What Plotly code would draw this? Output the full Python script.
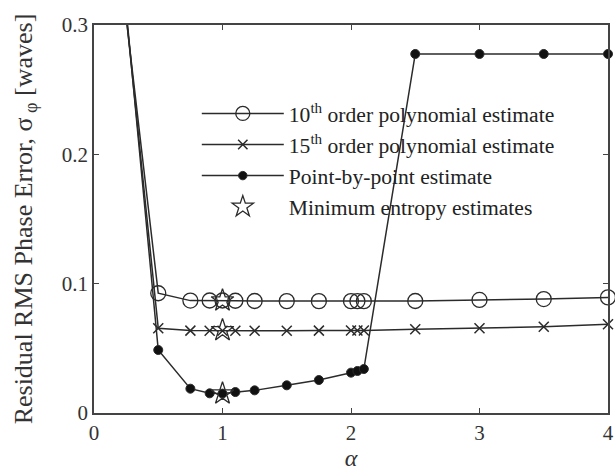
import plotly.graph_objects as go

alpha = [0.25, 0.5, 0.75, 0.9, 1.0, 1.1, 1.25, 1.5, 1.75, 2.0, 2.05, 2.1, 2.5, 3.0, 3.5, 4.0]
poly10 = [0.306, 0.0926, 0.0869, 0.0870, 0.0870, 0.0868, 0.0866, 0.0865, 0.0865, 0.0865, 0.0865, 0.0865, 0.0866, 0.0874, 0.0881, 0.0894]
poly15 = [0.308, 0.0655, 0.0637, 0.0636, 0.0636, 0.0636, 0.0636, 0.0636, 0.0637, 0.0638, 0.0638, 0.0638, 0.0647, 0.0655, 0.0667, 0.0686]
pbp = [0.312, 0.0487, 0.0188, 0.0152, 0.0150, 0.0162, 0.0175, 0.0214, 0.0255, 0.0312, 0.0325, 0.0340, 0.2776, 0.2776, 0.2776, 0.2776]
minent_alpha = [1.0, 1.0, 1.0]
minent_val = [0.0870, 0.0640, 0.0150]

FONT = "Liberation Serif"
INK = "#2b2b2b"


def sizes(n, s):
    return [0] + [s] * (n - 1)


fig = go.Figure()
fig.add_trace(go.Scatter(
    x=alpha, y=poly10, mode="lines+markers", cliponaxis=False,
    name="10<sup>th</sup> order polynomial estimate",
    line=dict(color=INK, width=1.5),
    marker=dict(symbol="circle-open", size=sizes(len(alpha), 15), color=INK, opacity=1,
                line=dict(width=1.3, color=INK)),
))
fig.add_trace(go.Scatter(
    x=alpha, y=poly15, mode="lines+markers", cliponaxis=False,
    name="15<sup>th</sup> order polynomial estimate",
    line=dict(color=INK, width=1.5),
    marker=dict(symbol="x-thin-open", size=sizes(len(alpha), 10), color=INK, opacity=1,
                line=dict(width=1.5, color=INK)),
))
fig.add_trace(go.Scatter(
    x=alpha, y=pbp, mode="lines+markers", cliponaxis=False,
    name="Point-by-point estimate",
    line=dict(color=INK, width=1.5),
    marker=dict(symbol="circle", size=sizes(len(alpha), 9), color="#111111", opacity=1),
))
fig.add_trace(go.Scatter(
    x=minent_alpha, y=minent_val, mode="markers", cliponaxis=False,
    name="Minimum entropy estimates",
    marker=dict(symbol="star-open", size=17, color=INK, opacity=1, line=dict(width=1.3, color=INK)),
))

axis_common = dict(
    showgrid=False, zeroline=False, showline=True, linecolor="#444444", linewidth=1.5,
    mirror="ticks", ticks="inside", ticklen=5, tickcolor="#444444", automargin=False,
    tickfont=dict(family=FONT, size=21, color="#333333"),
)
fig.update_xaxes(range=[0, 4], tickvals=[0, 1, 2, 3, 4],
                 title=dict(text="<i>α</i>", font=dict(family=FONT, size=24, color="#333333"), standoff=2),
                 **axis_common)
fig.update_yaxes(range=[0, 0.3], tickvals=[0, 0.1, 0.2, 0.3], ticktext=["0", "0.1", "0.2", "0.3"],
                 title=dict(text="Residual RMS Phase Error, σ<sub> φ</sub> [waves]",
                            font=dict(family=FONT, size=26, color="#333333"), standoff=22),
                 **axis_common)

fig.update_layout(
    width=615, height=474,
    margin=dict(l=94, r=7, t=25, b=61),
    paper_bgcolor="white", plot_bgcolor="white",
    showlegend=True,
    legend=dict(x=0.2, y=0.825, xanchor="left", yanchor="top",
                bgcolor="rgba(0,0,0,0)", borderwidth=0,
                font=dict(family=FONT, size=21.6, color="#222222"),
                itemwidth=82, tracegroupgap=0),
)

fig.write_html("out.html", config={"displayModeBar": False},
               post_script="document.body.style.margin='0';")
